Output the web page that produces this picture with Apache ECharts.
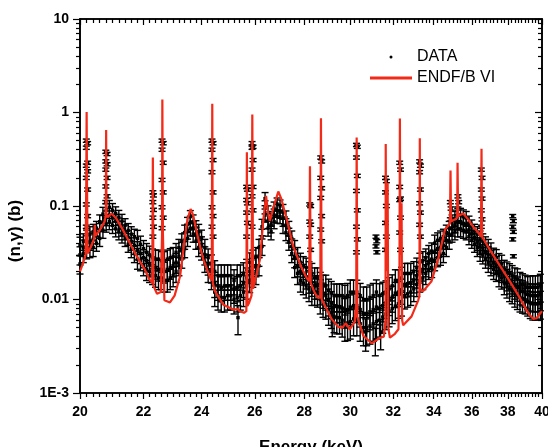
<!DOCTYPE html>
<html>
<head>
<meta charset="utf-8">
<title>(n,g) cross section</title>
<script src="https://cdn.jsdelivr.net/npm/echarts@6/dist/echarts.min.js"></script>
<style>
  html, body { margin: 0; padding: 0; background: #fff; }
  #chart { width: 548px; height: 447px; }
</style>
</head>
<body>
<div id="chart"></div>
<script>
// measured data band, rows: [energy keV, lower point, middle point, upper point, relative error]
var band20to24 = [
  [20.0,0.024,0.030,0.038,0.22],[20.1,0.031,0.036,0.042,0.2],[20.2,0.034,0.040,0.046,0.2],[20.3,0.035,0.042,0.050,0.2],
  [20.4,0.036,0.044,0.053,0.2],[20.5,0.040,0.048,0.058,0.18],[20.6,0.045,0.055,0.068,0.18],[20.7,0.055,0.067,0.082,0.18],
  [20.8,0.064,0.075,0.090,0.18],[20.9,0.068,0.080,0.097,0.18],[21.0,0.062,0.075,0.090,0.18],[21.1,0.057,0.069,0.083,0.18],
  [21.2,0.053,0.063,0.076,0.18],[21.3,0.049,0.058,0.069,0.18],[21.4,0.045,0.053,0.062,0.18],[21.5,0.039,0.046,0.055,0.18],
  [21.6,0.035,0.042,0.050,0.2],[21.7,0.031,0.038,0.047,0.2],[21.8,0.027,0.034,0.045,0.22],[21.9,0.026,0.031,0.039,0.22],
  [22.0,0.023,0.028,0.035,0.22],[22.1,0.021,0.026,0.032,0.24],[22.2,0.020,0.024,0.030,0.24],[22.3,0.019,0.023,0.028,0.24],
  [22.4,0.018,0.022,0.027,0.25],[22.5,0.017,0.021,0.027,0.25],[22.6,0.017,0.021,0.026,0.25],[22.7,0.016,0.020,0.026,0.25],
  [22.8,0.016,0.021,0.027,0.25],[22.9,0.017,0.022,0.028,0.25],[23.0,0.018,0.023,0.029,0.24],[23.1,0.020,0.025,0.032,0.24],
  [23.2,0.023,0.029,0.036,0.22],[23.3,0.027,0.034,0.042,0.2],[23.4,0.035,0.043,0.052,0.2],[23.5,0.045,0.054,0.064,0.18],
  [23.6,0.057,0.067,0.077,0.16],[23.7,0.050,0.058,0.068,0.18],[23.8,0.042,0.050,0.059,0.18],[23.9,0.036,0.044,0.053,0.2],
  [24.0,0.033,0.039,0.046,0.2]
];
var band24to30 = [
  [24.12,0.025,0.030,0.036,0.22],[24.24,0.020,0.024,0.028,0.24],[24.36,0.017,0.020,0.024,0.25],[24.48,0.012,0.015,0.020,0.3],
  [24.60,0.011,0.014,0.018,0.3],[24.72,0.0105,0.0135,0.018,0.3],[24.84,0.0105,0.014,0.018,0.3],[24.96,0.011,0.014,0.018,0.3],
  [25.08,0.011,0.014,0.018,0.3],[25.20,0.010,0.013,0.016,0.3],[25.32,0.0105,0.0135,0.018,0.3],[25.44,0.011,0.014,0.018,0.3],
  [25.56,0.012,0.015,0.019,0.3],[25.68,0.014,0.017,0.021,0.28],[25.80,0.016,0.020,0.025,0.26],[25.92,0.018,0.022,0.027,0.25],
  [26.04,0.019,0.023,0.029,0.24],[26.16,0.023,0.029,0.036,0.22],[26.28,0.037,0.047,0.060,0.2],[26.40,0.080,0.098,0.120,0.16],
  [26.52,0.058,0.070,0.085,0.18],[26.64,0.053,0.063,0.074,0.18],[26.76,0.068,0.080,0.095,0.16],[26.88,0.078,0.090,0.105,0.16],
  [27.00,0.077,0.088,0.100,0.16],[27.12,0.062,0.074,0.088,0.18],[27.24,0.052,0.062,0.075,0.18],[27.36,0.041,0.049,0.058,0.18],
  [27.48,0.031,0.037,0.045,0.2],[27.60,0.022,0.028,0.035,0.22],[27.72,0.019,0.023,0.029,0.24],[27.84,0.016,0.020,0.025,0.25],
  [27.96,0.015,0.019,0.023,0.25],[28.08,0.014,0.0175,0.022,0.26],[28.20,0.013,0.016,0.020,0.27],[28.32,0.012,0.015,0.019,0.28],
  [28.44,0.012,0.014,0.017,0.28],[28.56,0.0115,0.014,0.017,0.28],[28.68,0.010,0.0125,0.015,0.3],[28.80,0.0092,0.0115,0.014,0.3],
  [28.92,0.0088,0.011,0.014,0.3],[29.04,0.0078,0.0098,0.0125,0.32],[29.16,0.0072,0.0092,0.0118,0.32],[29.28,0.0066,0.0085,0.011,0.33],
  [29.40,0.0064,0.0084,0.011,0.33],[29.52,0.0064,0.0084,0.011,0.33],[29.64,0.0060,0.0081,0.011,0.34],[29.76,0.0055,0.0076,0.0105,0.35],
  [29.88,0.0056,0.0078,0.011,0.35],[30.00,0.0058,0.0083,0.012,0.35]
];
var band30to40 = [
  [30.15,0.0062,0.0086,0.012,0.34],[30.30,0.0062,0.0086,0.012,0.34],[30.45,0.0055,0.0078,0.011,0.35],[30.60,0.0050,0.0071,0.010,0.36],
  [30.75,0.0050,0.0071,0.010,0.36],[30.90,0.0052,0.0074,0.0105,0.36],[31.05,0.0055,0.0078,0.011,0.35],[31.20,0.0058,0.0083,0.012,0.35],
  [31.35,0.0060,0.0081,0.011,0.34],[31.50,0.0065,0.0086,0.0115,0.33],[31.65,0.0070,0.0092,0.012,0.32],[31.80,0.0075,0.0099,0.013,0.32],
  [31.95,0.0080,0.0106,0.014,0.31],[32.10,0.0085,0.0117,0.016,0.3],[32.25,0.0090,0.012,0.016,0.3],[32.40,0.0095,0.0127,0.017,0.3],
  [32.55,0.011,0.0145,0.019,0.28],[32.70,0.0115,0.0148,0.019,0.28],[32.85,0.012,0.0151,0.019,0.28],[33.00,0.013,0.0161,0.020,0.27],
  [33.15,0.0145,0.0179,0.022,0.26],[33.30,0.016,0.020,0.025,0.25],[33.45,0.017,0.021,0.026,0.25],[33.60,0.019,0.023,0.028,0.24],
  [33.75,0.021,0.0255,0.031,0.22],[33.90,0.022,0.027,0.033,0.22],[34.05,0.026,0.032,0.040,0.22],[34.20,0.028,0.035,0.043,0.2],
  [34.35,0.029,0.036,0.045,0.2],[34.50,0.031,0.038,0.047,0.2],[34.65,0.036,0.043,0.052,0.2],[34.80,0.042,0.049,0.058,0.18],
  [34.95,0.050,0.058,0.068,0.18],[35.10,0.053,0.063,0.074,0.18],[35.25,0.057,0.068,0.080,0.18],[35.40,0.057,0.068,0.080,0.18],
  [35.55,0.055,0.065,0.077,0.18],[35.70,0.053,0.063,0.074,0.18],[35.85,0.047,0.056,0.066,0.18],[36.00,0.043,0.051,0.060,0.18],
  [36.15,0.039,0.046,0.054,0.18],[36.30,0.036,0.042,0.050,0.2],[36.45,0.032,0.038,0.045,0.2],[36.60,0.030,0.0355,0.042,0.2],
  [36.75,0.027,0.0325,0.039,0.2],[36.90,0.025,0.030,0.036,0.22],[37.05,0.023,0.0275,0.033,0.22],[37.20,0.021,0.0245,0.029,0.22],
  [37.35,0.020,0.0237,0.028,0.22],[37.50,0.018,0.021,0.025,0.24],[37.65,0.017,0.020,0.024,0.24],[37.80,0.015,0.0178,0.021,0.25],
  [37.95,0.014,0.0167,0.020,0.26],[38.10,0.013,0.0157,0.019,0.27],[38.25,0.0125,0.015,0.018,0.28],[38.40,0.0115,0.014,0.017,0.28],
  [38.55,0.011,0.0135,0.0165,0.29],[38.70,0.0105,0.0125,0.015,0.3],[38.85,0.0102,0.0122,0.0145,0.3],[39.00,0.010,0.0118,0.014,0.3],
  [39.15,0.0095,0.0113,0.0135,0.3],[39.30,0.0092,0.0111,0.0135,0.32],[39.45,0.009,0.011,0.0135,0.33],[39.60,0.009,0.011,0.0135,0.33],
  [39.75,0.009,0.011,0.0135,0.33],[39.90,0.0092,0.0113,0.014,0.33]
];
// points measured on the narrow resonances: [energy, value]
var resonancePoints = [
  [20.19,0.50],[20.23,0.47],[20.19,0.42],[20.23,0.29],[20.19,0.27],[20.23,0.235],[20.19,0.20],[20.23,0.15],[20.19,0.104],[20.23,0.078],[20.19,0.06],
  [20.79,0.38],[20.83,0.36],[20.79,0.30],[20.83,0.28],[20.79,0.245],[20.83,0.20],[20.79,0.162],[20.83,0.127],[20.79,0.11],
  [22.31,0.14],[22.33,0.13],[22.31,0.11],[22.33,0.091],[22.31,0.075],[22.33,0.06],[22.31,0.047],
  [22.62,0.50],[22.66,0.47],[22.62,0.40],[22.66,0.29],[22.62,0.19],[22.66,0.14],[22.62,0.097],[22.66,0.075],[22.62,0.058],
  [24.38,0.50],[24.42,0.47],[24.38,0.40],[24.42,0.31],[24.38,0.23],[24.42,0.14],[24.38,0.097],[24.42,0.078],[24.38,0.06],[24.42,0.047],
  [25.68,0.16],[25.71,0.15],[25.68,0.116],[25.71,0.107],[25.68,0.085],[25.71,0.066],[25.68,0.047],
  [25.89,0.47],[25.93,0.43],[25.89,0.42],[25.93,0.31],[25.89,0.245],[25.93,0.16],[25.89,0.127],[25.93,0.09],[25.89,0.06],
  [28.23,0.104],[28.27,0.10],[28.23,0.068],[28.27,0.063],[28.23,0.047],[28.27,0.034],
  [28.70,0.33],[28.74,0.30],[28.70,0.20],[28.74,0.155],[28.70,0.122],[28.74,0.078],[28.70,0.056],[28.74,0.042],
  [30.28,0.45],[30.32,0.43],[30.28,0.33],[30.32,0.21],[30.28,0.145],[30.32,0.09],[30.28,0.06],[30.32,0.044],[30.28,0.032],
  [31.18,0.047],[31.22,0.042],[31.18,0.037],[31.22,0.032],
  [31.63,0.20],[31.67,0.185],[31.63,0.14],[31.67,0.10],[31.63,0.066],[31.67,0.047],[31.63,0.034],
  [32.31,0.29],[32.35,0.245],[32.31,0.16],[32.35,0.12],[32.31,0.116],[32.35,0.075],[32.31,0.052],[32.35,0.034],
  [33.29,0.30],[33.33,0.27],[33.29,0.23],[33.33,0.15],[33.29,0.107],[33.33,0.085],[33.29,0.063],[33.33,0.047],
  [34.86,0.11],[34.90,0.094],[34.86,0.072],
  [35.26,0.127],[35.30,0.11],[35.26,0.094],
  [36.52,0.245],[36.56,0.20],[36.52,0.15],[36.56,0.12],[36.52,0.09],[36.56,0.072],[36.52,0.06],
  [38.28,0.078],[38.32,0.069],[38.28,0.06],[38.32,0.053],[38.28,0.044],[38.32,0.029]
];
var resonanceRelErr = 0.04;
// isolated low points: [energy, value, abs error]
var lowPoints = [[25.35,0.0064,0.0022],[29.2,0.0062,0.0022],[30.7,0.0045,0.0017],[31.15,0.0037,0.0012],[31.4,0.0045,0.0016]];

// ENDF/B VI evaluation
var endfE = [20.00,20.10,20.17,20.19,20.20,20.21,20.23,20.35,20.43,20.45,20.47,20.60,20.75,20.79,20.80,20.81,20.85,20.96,21.10,21.30,
  21.49,21.75,22.04,22.20,22.29,22.31,22.33,22.45,22.51,22.58,22.62,22.63,22.65,22.70,22.89,23.05,23.24,23.41,23.50,23.61,
  23.70,23.83,24.06,24.31,24.37,24.39,24.41,24.49,24.80,25.17,25.35,25.42,25.58,25.67,25.69,25.71,25.78,25.87,25.90,25.93,
  26.00,26.20,26.33,26.44,26.52,26.59,26.75,26.93,27.05,27.27,27.54,27.89,28.10,28.21,28.24,28.27,28.45,28.59,28.68,28.71,
  28.74,28.88,29.17,29.46,29.65,29.80,29.98,30.20,30.27,30.29,30.32,30.59,30.98,31.37,31.55,31.63,31.64,31.66,31.70,31.73,
  31.76,31.84,32.08,32.25,32.30,32.32,32.34,32.38,32.40,32.43,32.48,32.89,33.22,33.28,33.30,33.32,33.47,33.89,34.23,34.58,
  34.84,34.87,34.90,35.10,35.22,35.24,35.27,35.54,35.80,36.07,36.35,36.50,36.53,36.56,36.99,37.55,38.11,38.69,39.17,39.47,
  39.67,40.00];
var endfV = [0.020,0.025,0.030,0.2,1.01,0.2,0.031,0.038,0.045,0.063,0.048,0.055,0.068,0.08,0.65,0.08,0.076,0.083,0.075,0.058,
  0.044,0.030,0.021,0.0163,0.015,0.33,0.014,0.0115,0.0113,0.012,0.05,1.38,0.05,0.0098,0.0093,0.011,0.0177,0.047,0.072,0.093,
  0.08,0.052,0.027,0.0172,0.016,1.24,0.015,0.0122,0.0088,0.0078,0.0079,0.0075,0.0072,0.0075,0.375,0.0085,0.0093,0.011,0.95,0.013,
  0.0128,0.027,0.07,0.128,0.085,0.069,0.10,0.143,0.12,0.072,0.037,0.0218,0.017,0.0157,0.266,0.015,0.0117,0.0104,0.0105,0.87,
  0.010,0.0086,0.0062,0.0051,0.0050,0.0056,0.0048,0.0058,0.009,0.54,0.0065,0.0041,0.0034,0.0039,0.0040,0.006,0.46,0.02,0.02,0.177,
  0.005,0.0039,0.0043,0.0048,0.02,0.86,0.03,0.05,0.107,0.006,0.0053,0.0066,0.0098,0.011,0.53,0.013,0.0123,0.0157,0.027,0.056,
  0.065,0.24,0.068,0.072,0.075,0.29,0.078,0.083,0.072,0.060,0.052,0.047,0.41,0.047,0.034,0.023,0.0157,0.0104,0.0072,0.0062,
  0.0063,0.0075];

var xLabels = [20,22,24,26,28,30,32,34,36,38,40];
var yLabels = [0.001,0.01,0.1,1,10];

// build error bar items [E, v, err]
var dataItems = [];
[band20to24, band24to30, band30to40].forEach(function(rows){
  rows.forEach(function(r){
    dataItems.push([r[0], r[1], r[1]*r[4]]);
    dataItems.push([r[0], r[2], r[2]*r[4]]);
    dataItems.push([r[0], r[3], r[3]*r[4]]);
  });
});
resonancePoints.forEach(function(p){ dataItems.push([p[0], p[1], p[1]*resonanceRelErr]); });
lowPoints.forEach(function(p){ dataItems.push(p); });

var endfData = endfE.map(function(e, i){ return [e, endfV[i]]; });

// minor tick positions
var xMinor = [];
for (var i = 0; i <= 100; i++) {
  var t = Math.round((20 + i*0.2)*10)/10;
  if (Math.round(t*10) % 20 !== 0) xMinor.push(t);
}
var yMinor = [];
[0.001,0.01,0.1,1].forEach(function(d){
  for (var k = 2; k <= 9; k++) yMinor.push(+(k*d).toPrecision(3));
});

var font = 'Liberation Sans, Arial, Helvetica, sans-serif';

function xAxisDef(pos, vals, len, inside, showLine, withLabels) {
  var ax = {
    type: 'log', logBase: 10, min: 20, max: 40, position: pos,
    axisLine: { show: showLine, lineStyle: { color: '#000', width: 1.6 } },
    axisTick: { show: true, customValues: vals, length: len, inside: inside, lineStyle: { color: '#000', width: 1.2 } },
    axisLabel: { show: false },
    splitLine: { show: false }
  };
  if (withLabels) {
    ax.axisLabel = {
      show: true, customValues: xLabels, margin: 12,
      formatter: function(v){ return String(Math.round(v)); },
      color: '#000', fontFamily: font, fontWeight: 'bold', fontSize: 14
    };
    ax.name = 'Energy (keV)';
    ax.nameLocation = 'middle';
    ax.nameGap = 46;
    ax.nameTextStyle = { color: '#000', fontFamily: font, fontWeight: 'bold', fontSize: 17 };
  }
  return ax;
}
function yAxisDef(pos, vals, len, inside, showLine, withLabels) {
  var ax = {
    type: 'log', logBase: 10, min: 0.001, max: 10, position: pos,
    axisLine: { show: showLine, lineStyle: { color: '#000', width: 1.6 } },
    axisTick: { show: true, customValues: vals, length: len, inside: inside, lineStyle: { color: '#000', width: 1.2 } },
    axisLabel: { show: false },
    splitLine: { show: false }
  };
  if (withLabels) {
    ax.axisLabel = {
      show: true, customValues: yLabels, margin: 11,
      formatter: function(v){
        var p = Math.round(Math.log10(v));
        return {'-3':'1E-3','-2':'0.01','-1':'0.1','0':'1','1':'10'}[p];
      },
      color: '#000', fontFamily: font, fontWeight: 'bold', fontSize: 14
    };
    ax.name = '(n,\u03b3) (b)';
    ax.nameLocation = 'middle';
    ax.nameGap = 56;
    ax.nameTextStyle = { color: '#000', fontFamily: font, fontWeight: 'bold', fontSize: 17, padding: [0, 50, 0, 0] };
  }
  return ax;
}

function renderErr(params, api) {
  var e = api.value(0), v = api.value(1), d = api.value(2);
  var top = api.coord([e, v + d]);
  var bot = api.coord([e, v - d]);
  var mid = api.coord([e, v]);
  var hw = 3.5;
  var st = { stroke: '#000', lineWidth: 1.4 };
  return {
    type: 'group',
    children: [
      { type: 'line', shape: { x1: mid[0], y1: top[1], x2: mid[0], y2: bot[1] }, style: st },
      { type: 'line', shape: { x1: mid[0]-hw, y1: top[1], x2: mid[0]+hw, y2: top[1] }, style: st },
      { type: 'line', shape: { x1: mid[0]-hw, y1: bot[1], x2: mid[0]+hw, y2: bot[1] }, style: st },
      { type: 'rect', shape: { x: mid[0]-1.7, y: mid[1]-1.7, width: 3.4, height: 3.4 }, style: { fill: '#000' } }
    ]
  };
}

var chart = echarts.init(document.getElementById('chart'));
chart.setOption({
  animation: false,
  backgroundColor: '#fff',
  grid: { left: 80, right: 6, top: 19, bottom: 54, outerBoundsMode: 'none', containLabel: false,
    show: true, borderColor: '#000', borderWidth: 1.6, backgroundColor: 'transparent' },
  legend: {
    orient: 'vertical', left: 370, top: 49, padding: 0, itemWidth: 42, itemHeight: 3, itemGap: 5,
    textStyle: { color: '#000', fontFamily: font, fontSize: 16 },
    data: [
      { name: 'DATA', icon: 'circle', itemStyle: { color: '#000' } },
      { name: 'ENDF/B VI', icon: 'rect', itemStyle: { color: '#f42a18' } }
    ]
  },
  xAxis: [
    xAxisDef('bottom', xLabels, 6, false, true, true),
    xAxisDef('bottom', xMinor, 4, false, false, false),
    xAxisDef('top', xLabels, 6, true, true, false),
    xAxisDef('top', xMinor, 4, true, false, false)
  ],
  yAxis: [
    yAxisDef('left', yLabels, 7, false, true, true),
    yAxisDef('left', yMinor, 4, false, false, false),
    yAxisDef('right', yLabels, 7, true, true, false),
    yAxisDef('right', yMinor, 4, true, false, false)
  ],
  series: [
    {
      name: 'DATA', type: 'custom', xAxisIndex: 0, yAxisIndex: 0,
      renderItem: renderErr, data: dataItems,
      encode: { x: 0, y: 1 },
      itemStyle: { color: '#000' }, z: 2
    },
    {
      name: 'ENDF/B VI', type: 'line', xAxisIndex: 0, yAxisIndex: 0,
      data: endfData, showSymbol: false, symbol: 'none',
      lineStyle: { color: '#f42a18', width: 2.2 },
      itemStyle: { color: '#f42a18' }, z: 3
    }
  ]
});
</script>
</body>
</html>
